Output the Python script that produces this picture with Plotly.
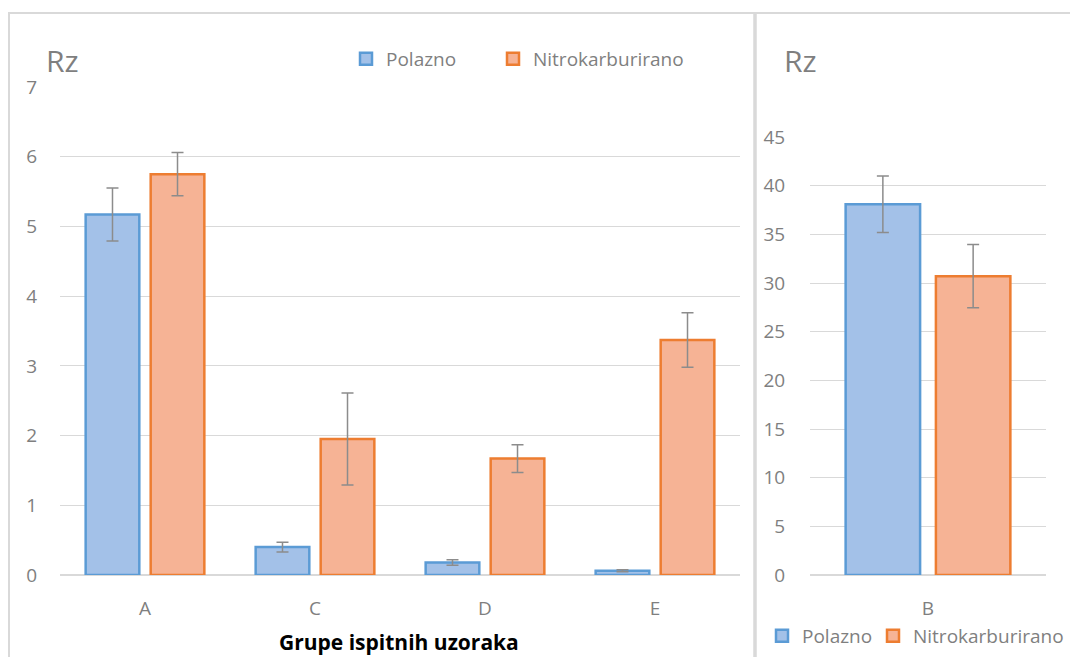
import plotly.graph_objects as go

# page offset of the plot div (browser body margin)
OFF = 8
FW, FH = 1070, 649

# ---- data ----
groups_left = ["A", "C", "D", "E"]
polazno_left = [5.17, 0.40, 0.18, 0.06]
polazno_left_err = [0.38, 0.07, 0.04, 0.015]
nitro_left = [5.75, 1.95, 1.67, 3.37]
nitro_left_err = [0.31, 0.66, 0.20, 0.39]

groups_right = ["B"]
polazno_right = [38.1]
polazno_right_err = [2.9]
nitro_right = [30.7]
nitro_right_err = [3.25]

series_names = ["Polazno", "Nitrokarburirano"]
x_title = "Grupe ispitnih uzoraka"
y_title = "Rz"

# ---- style ----
BLUE_FILL = "#a3c1e8"
BLUE_LINE = "#5b9bd5"
ORANGE_FILL = "#f6b395"
ORANGE_LINE = "#ed7d31"
ERR = "#8c8c8c"
GRID = "#d9d9d9"
TXT = "#7f7f7f"
FONT = "Open Sans"


def px(x):
    return (x - OFF) / FW


def py(y):
    return 1 - (y - OFF) / FH


fig = go.Figure()


def bar(x, y, err, name, fill, line, xa, ya, legend):
    return go.Bar(
        x=x, y=y, name=name, xaxis=xa, yaxis=ya, legend=legend,
        showlegend=True,
        marker=dict(color=fill, line=dict(color=line, width=2.5)),
        error_y=dict(type="data", array=err, visible=True, color=ERR,
                     thickness=1.5, width=6),
    )


fig.add_trace(bar(groups_left, polazno_left, polazno_left_err, series_names[0],
                  BLUE_FILL, BLUE_LINE, "x", "y", "legend"))
fig.add_trace(bar(groups_left, nitro_left, nitro_left_err, series_names[1],
                  ORANGE_FILL, ORANGE_LINE, "x", "y", "legend2"))
fig.add_trace(bar(groups_right, polazno_right, polazno_right_err, series_names[0],
                  BLUE_FILL, BLUE_LINE, "x2", "y2", "legend3"))
fig.add_trace(bar(groups_right, nitro_right, nitro_right_err, series_names[1],
                  ORANGE_FILL, ORANGE_LINE, "x2", "y2", "legend4"))

tickfont = dict(family=FONT, size=19, color=TXT)


def leg(x, y):
    return dict(orientation="h", x=px(x), y=py(y), xanchor="left",
                yanchor="middle", font=dict(family=FONT, size=19, color=TXT),
                bgcolor="rgba(0,0,0,0)", itemwidth=30)


fig.update_layout(
    width=FW, height=FH,
    margin=dict(l=0, r=0, t=0, b=0, pad=0, autoexpand=False),
    paper_bgcolor="white", plot_bgcolor="white",
    barmode="group", bargap=0.235, bargroupgap=0.175,
    font=dict(family=FONT, color=TXT),
    xaxis=dict(domain=[px(60), px(740)], anchor="y", showgrid=False,
               showline=False, zeroline=False, tickfont=tickfont,
               automargin=False,
               ticks="outside", ticklen=16, tickcolor="rgba(0,0,0,0)"),
    yaxis=dict(domain=[py(575), py(87)], anchor="x", range=[0, 7],
               dtick=1, showgrid=True, gridcolor=GRID, gridwidth=1.3,
               zeroline=True, zerolinecolor=GRID, zerolinewidth=2,
               showline=False, tickfont=tickfont, automargin=False,
               ticks="outside", ticklen=18, tickcolor="rgba(0,0,0,0)"),
    xaxis2=dict(domain=[px(810), px(1046)], anchor="y2", showgrid=False,
                showline=False, zeroline=False, tickfont=tickfont,
                automargin=False,
                ticks="outside", ticklen=16, tickcolor="rgba(0,0,0,0)"),
    yaxis2=dict(domain=[py(575), py(137)], anchor="x2", range=[0, 45],
                dtick=5, showgrid=True, gridcolor=GRID, gridwidth=1.3,
                zeroline=True, zerolinecolor=GRID, zerolinewidth=2,
                showline=False, tickfont=tickfont, automargin=False,
                ticks="outside", ticklen=20, tickcolor="rgba(0,0,0,0)"),
    legend=leg(346, 59),
    legend2=leg(493, 59),
    legend3=leg(762, 636),
    legend4=leg(873, 636),
    annotations=[
        dict(text=y_title, x=px(44), y=py(60), xref="paper", yref="paper",
             xanchor="left", yanchor="middle", showarrow=False,
             font=dict(family=FONT, size=30, color=TXT)),
        dict(text=y_title, x=px(782), y=py(60), xref="paper", yref="paper",
             xanchor="left", yanchor="middle", showarrow=False,
             font=dict(family=FONT, size=30, color=TXT)),
        dict(text="<b>" + x_title + "</b>", x=px(399), y=py(642),
             xref="paper", yref="paper", xanchor="center", yanchor="middle",
             showarrow=False, font=dict(family=FONT, size=21, color="black")),
    ],
    shapes=[
        dict(type="line", xref="paper", yref="paper", x0=px(8), x1=1,
             y0=py(13), y1=py(13), line=dict(color=GRID, width=2)),
        dict(type="line", xref="paper", yref="paper", x0=px(9), x1=px(9),
             y0=py(13), y1=0, line=dict(color=GRID, width=2)),
        dict(type="line", xref="paper", yref="paper", x0=px(755), x1=px(755),
             y0=py(13), y1=0, line=dict(color=GRID, width=3.5)),
    ],
)

fig.write_html("out.html")
